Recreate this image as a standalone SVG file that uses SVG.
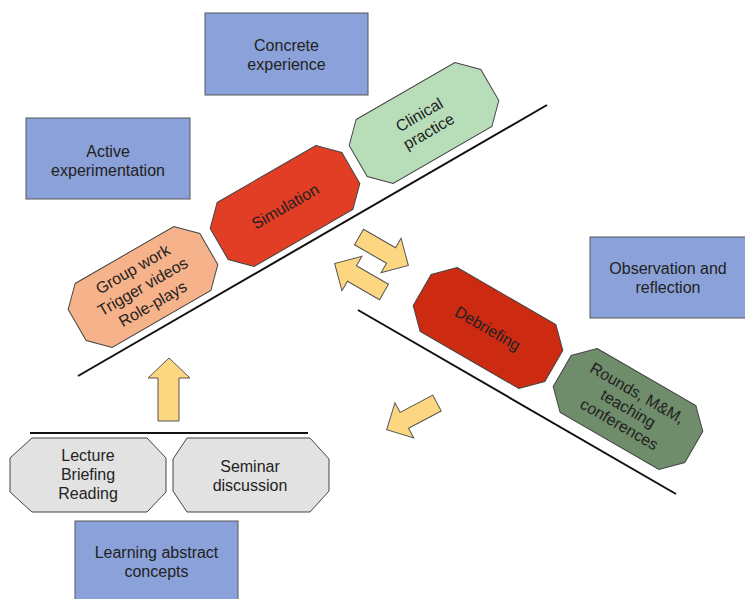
<svg xmlns="http://www.w3.org/2000/svg" width="745" height="599" viewBox="0 0 745 599">
<defs>
<polygon id="oct" points="-57,-37 57,-37 76,-18 76,18 57,37 -57,37 -76,18 -76,-18"/>
<polygon id="arr" points="0,-9 37,-9 37,-20 57,0 37,20 37,9 0,9"/>
</defs>
<style>
text { font-family: "Liberation Sans", Arial, sans-serif; font-size: 16px; fill: #222; text-anchor: middle; }
.box { fill: #8ba1d9; stroke: #555; stroke-width: 1; }
.oct { stroke: #444; stroke-width: 1; }
.arrow { fill: #fcd681; stroke: #555; stroke-width: 1; }
.line { stroke: #111; stroke-width: 2; fill: none; }
</style>
<rect width="745" height="599" fill="#fff"/>

<g id="connectors">
<line class="line" x1="78" y1="376" x2="547" y2="105"/>
<line class="line" x1="358" y1="310" x2="676" y2="494"/>
<line class="line" x1="30" y1="433" x2="308" y2="433"/>
<use href="#arr" class="arrow" transform="translate(359,237) rotate(30)"/>
<use href="#arr" class="arrow" transform="translate(384,292) rotate(210)"/>
<use href="#arr" class="arrow" transform="translate(437,403) rotate(152)"/>
<polygon class="arrow" points="169,358 190,378 179,378 179,421 158,421 158,378 148,378"/>
</g>

<g id="concrete-experience">
<rect class="box" x="205" y="13" width="163" height="82"/>
<text x="286.5" y="51">Concrete</text>
<text x="286.5" y="70">experience</text>
</g>

<g id="active-experimentation">
<rect class="box" x="26" y="118" width="164" height="81"/>
<text x="108" y="157">Active</text>
<text x="108" y="176">experimentation</text>
</g>

<g id="observation-reflection">
<rect class="box" x="590" y="237" width="160" height="81"/>
<text x="668" y="274">Observation and</text>
<text x="668" y="293">reflection</text>
</g>

<g id="learning-abstract">
<rect class="box" x="75" y="521" width="163" height="85"/>
<text x="156.5" y="558">Learning abstract</text>
<text x="156.5" y="577">concepts</text>
</g>

<g id="group-work" transform="translate(143,287) rotate(-30)">
<use href="#oct" class="oct" fill="#f6b38b"/>
<text y="-15">Group work</text>
<text y="5">Trigger videos</text>
<text y="25">Role-plays</text>
</g>

<g id="simulation" transform="translate(285,206) rotate(-30)">
<use href="#oct" class="oct" fill="#e23d25"/>
<text y="6">Simulation</text>
</g>

<g id="clinical-practice" transform="translate(424,123) rotate(-30)">
<use href="#oct" class="oct" fill="#b8ddb9"/>
<text y="-4">Clinical</text>
<text y="15">practice</text>
</g>

<g id="debriefing" transform="translate(488,328) rotate(30)">
<use href="#oct" class="oct" fill="#cd2a12"/>
<text y="6">Debriefing</text>
</g>

<g id="rounds" transform="translate(628,409) rotate(30)">
<use href="#oct" class="oct" fill="#6f8c6b"/>
<text y="-13">Rounds, M&amp;M,</text>
<text y="5">teaching</text>
<text y="23">conferences</text>
</g>

<g id="lecture">
<polygon class="oct" fill="#e2e2e2" points="32,438 147,438 166,458 166,492 147,512 32,512 10,492 10,458"/>
<text x="88" y="461">Lecture</text>
<text x="88" y="480">Briefing</text>
<text x="88" y="499">Reading</text>
</g>

<g id="seminar">
<polygon class="oct" fill="#e2e2e2" points="187,438 310,438 329,459 329,491 310,512 187,512 173,491 173,459"/>
<text x="250" y="472">Seminar</text>
<text x="250" y="491">discussion</text>
</g>
</svg>
